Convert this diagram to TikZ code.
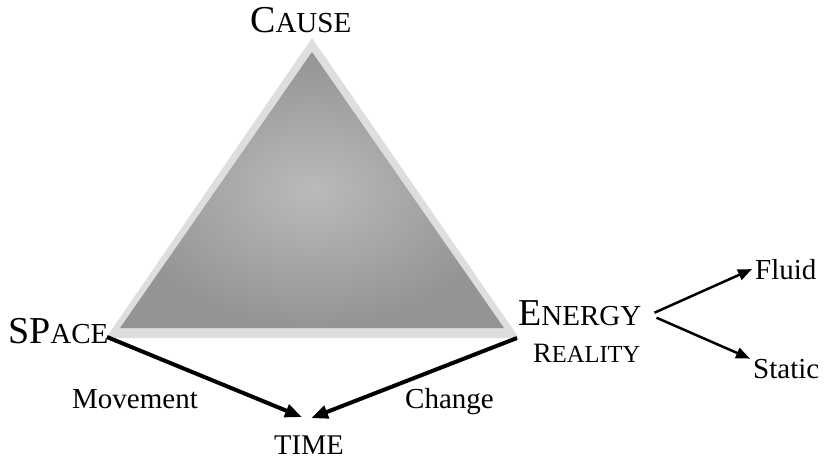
\documentclass[tikz,border=0pt]{standalone}
\usepackage{fontspec}
\setmainfont{Liberation Serif}
\usetikzlibrary{arrows.meta}
\definecolor{rim}{rgb}{0.870000,0.870000,0.870000}
\definecolor{faceedge}{rgb}{0.580000,0.580000,0.580000}
\definecolor{facemid}{rgb}{0.730000,0.730000,0.730000}
% capital followed by smaller capitals
\newcommand{\capsword}[2]{{\fontsize{38}{40}\selectfont #1}{\fontsize{29}{30}\selectfont #2}}
\begin{document}
\begin{tikzpicture}[x=1pt,y=-1pt,
    word/.style={inner sep=0pt,anchor=base west,font=\fontsize{29}{30}\selectfont},
    title/.style={inner sep=0pt,anchor=base west},
    heavy/.style={line width=4pt,-{Triangle[length=17pt,width=13pt]}},
    light/.style={line width=2.5pt,-{Triangle[length=14pt,width=11pt]}}]
\useasboundingbox (0,0) rectangle (824,459);

% Drawing triangle with rim
\fill[rim] (312,38) -- (519,338) -- (106,338) -- cycle;
\shade[inner color=facemid,outer color=faceedge] (312,52) -- (504,328) -- (120,328) -- cycle;
\coordinate (sw) at (107,337);
\coordinate (se) at (517,338);

% Marking corners
\node[title] (cause) at (250,32) {\capsword{C}{AUSE}};
\node[title] (space) at (8,343) {\capsword{SP}{ACE}};
\node[title] (energy) at (518,325) {\capsword{E}{NERGY}};
\node[title] (reality) at (533,362) {{\fontsize{28}{30}\selectfont R}{\fontsize{24.5}{26}\selectfont EALITY}};
\node[word,font=\fontsize{28.5}{30}\selectfont] (time) at (274,454) {TIME};

% Edge labels
\node[word] (movement) at (72,408) {Movement};
\node[word] (change) at (405,408) {Change};
\node[word] (fluid) at (755,279) {Fluid};
\node[word] (static) at (753,378) {Static};

% Drawing arrows
\draw[heavy] (sw) -- ([xshift=-7pt,yshift=18pt]time.north);
\draw[heavy] (se) -- ([xshift=2pt,yshift=17pt]time.north);
\draw[light] ([xshift=13pt]energy.east) -- ([xshift=-3pt]fluid.west);
\draw[light] ([xshift=15pt,yshift=-5pt]energy.east) -- ([xshift=-3pt]static.north west);
\end{tikzpicture}
\end{document}
